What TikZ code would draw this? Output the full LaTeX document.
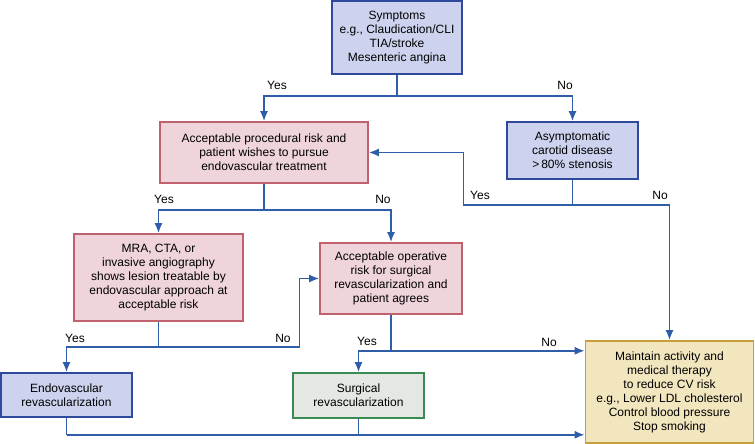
\documentclass[tikz,border=0pt]{standalone}
\usepackage{fontspec}
\setmainfont{Liberation Sans}
\usetikzlibrary{arrows.meta}

\definecolor{boxblue}{HTML}{CDD3EE}
\definecolor{lineblue}{HTML}{2F4A9C}
\definecolor{boxpink}{HTML}{EFD5DB}
\definecolor{linepink}{HTML}{C0626E}
\definecolor{boxgreen}{HTML}{E3E8E3}
\definecolor{linegreen}{HTML}{3A8B53}
\definecolor{boxyellow}{HTML}{F2E6BE}
\definecolor{lineyellow}{HTML}{C89E3A}
\definecolor{arrowblue}{HTML}{2F5DA8}

\begin{document}
\begin{tikzpicture}[
                x=1pt, y=-1pt,
                font=\fontsize{12}{14}\selectfont,
                % Stile comune dei riquadri
                box/.style={
                    draw,
                    line width=1.6pt,
                    align=center,
                    inner sep=0pt
                },
                bluebox/.style={box, fill=boxblue, draw=lineblue},
                pinkbox/.style={box, fill=boxpink, draw=linepink},
                greenbox/.style={box, fill=boxgreen, draw=linegreen},
                yellowbox/.style={box, fill=boxyellow, draw=lineyellow},
                % Stile delle frecce e delle etichette
                link/.style={draw=arrowblue, line width=1.7pt},
                >={Latex[length=10pt,width=8pt]},
                answer/.style={inner sep=0pt}
            ]

                \useasboundingbox (0,0) rectangle (755,444);

                % --- Riquadri ---
                \node[bluebox, minimum width=130, minimum height=73] (sym) at (397,37.5)
                    {Symptoms\\e.g., Claudication/CLI\\TIA/stroke\\Mesenteric angina};
                \node[pinkbox, minimum width=208, minimum height=61] (proc) at (264,152.5)
                    {Acceptable procedural risk and\\patient wishes to pursue\\endovascular treatment};
                \node[bluebox, minimum width=131, minimum height=57] (asym) at (572.5,150.5)
                    {Asymptomatic\\carotid disease\\>\,80\% stenosis};
                \node[pinkbox, minimum width=169, minimum height=87] (img) at (158.5,277.5)
                    {MRA, CTA, or\\invasive angiography\\shows lesion treatable by\\endovascular approach at\\acceptable risk};
                \node[pinkbox, minimum width=142, minimum height=71] (oper) at (391,278.5)
                    {Acceptable operative\\risk for surgical\\revascularization and\\patient agrees};
                \node[bluebox, minimum width=131, minimum height=44] (endo) at (66.5,395)
                    {Endovascular\\revascularization};
                \node[greenbox, minimum width=131, minimum height=45] (surg) at (358.5,395.5)
                    {Surgical\\revascularization};
                \node[yellowbox, minimum width=168, minimum height=102] (maint) at (669.5,392)
                    {Maintain activity and\\medical therapy\\to reduce CV risk\\e.g., Lower LDL cholesterol\\Control blood pressure\\Stop smoking};

                % --- Sintomi ---
                \draw[link] (sym.south) -- ++(0,21) coordinate (j1);
                \draw[link, ->] (j1) -| (proc.north);
                \draw[link, ->] (j1) -| (asym.north);
                \node[answer] (y1) at (277,85) {Yes};
                \node[answer] (n1) at (565,85) {No};

                % --- Rischio procedurale ---
                \draw[link] (proc.south) -- ++(0,26) coordinate (j2);
                \draw[link, ->] (j2) -| (img.north);
                \draw[link, ->] (j2) -| (oper.north);
                \node[answer] (y2) at (164,199) {Yes};
                \node[answer] (n2) at (383,199) {No};

                % --- Malattia carotidea asintomatica ---
                \draw[link] (asym.south) -- ++(0,25) coordinate (j3);
                \draw[link, ->] (j3) -- ++(-109,0) |- (proc.east);
                \draw[link, ->] (j3) -| (maint.north);
                \node[answer] (y3) at (480,195) {Yes};
                \node[answer] (n3) at (660,195) {No};

                % --- Imaging ---
                \draw[link] (img.south) -- ++(0,25) coordinate (j4);
                \draw[link, ->] (j4) -| (endo.north);
                \draw[link, ->] (j4) -- ++(141,0) |- (oper.west);
                \node[answer] (y4) at (75,338) {Yes};
                \node[answer] (n4) at (283,338) {No};

                % --- Rischio operatorio ---
                \draw[link] (oper.south) -- ++(0,36) coordinate (j5);
                \draw[link, ->] (j5) -| (surg.north);
                \draw[link, ->] (j5) -- (j5 -| maint.west);
                \node[answer] (y5) at (367,341) {Yes};
                \node[answer] (n5) at (549,342) {No};

                % --- Rivascolarizzazione verso terapia medica ---
                \draw[link] (endo.south) -- ++(0,17) coordinate (j6);
                \draw[link, ->] (j6) -- (j6 -| maint.west);
                \draw[link] (surg.south) -- (surg.south |- j6);

            \end{tikzpicture}
\end{document}
